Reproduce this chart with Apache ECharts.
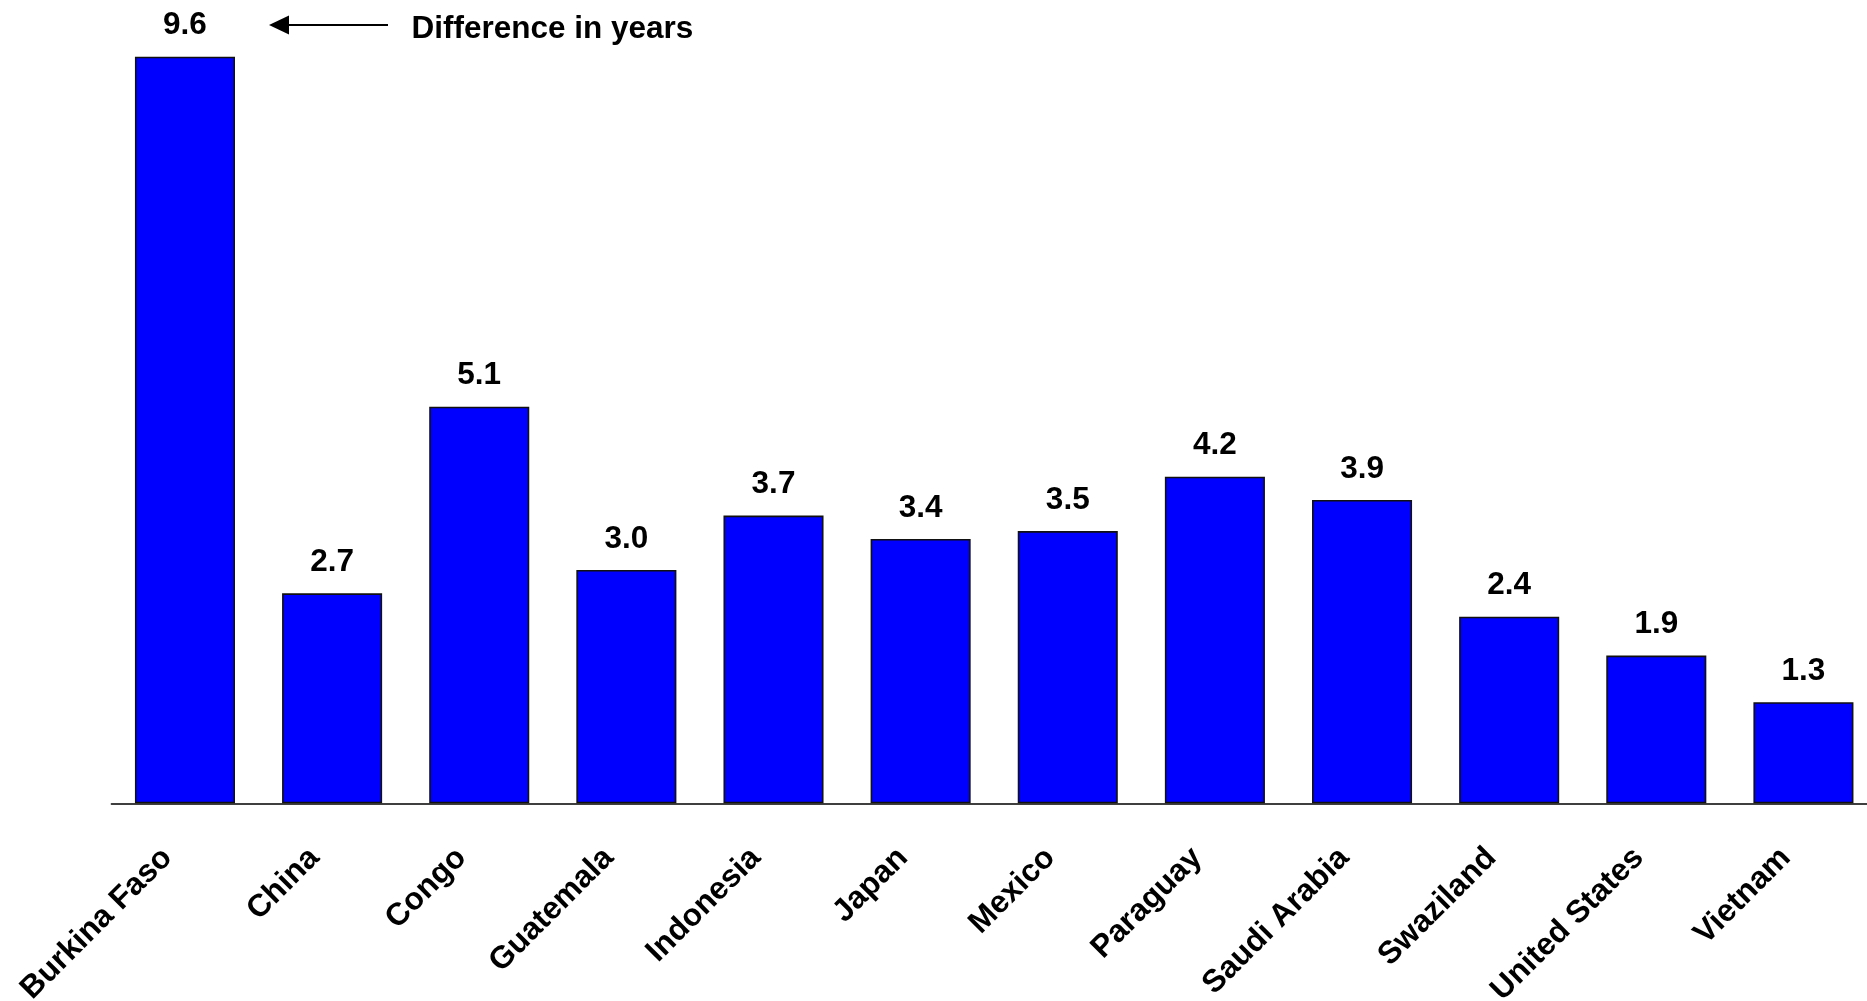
<!DOCTYPE html>
<html>
<head>
<meta charset="utf-8">
<title>Difference in years</title>
<script src="https://cdn.jsdelivr.net/npm/echarts@6/dist/echarts.min.js"></script>
<style>
  html, body { margin: 0; padding: 0; background: #ffffff; }
  #chart { width: 1867px; height: 1001px; }
</style>
</head>
<body>
<div id="chart"></div>
<script>
// Countries along the category axis
const countries = [
  'Burkina Faso', 'China', 'Congo', 'Guatemala', 'Indonesia', 'Japan',
  'Mexico', 'Paraguay', 'Saudi Arabia', 'Swaziland', 'United States', 'Vietnam'
];
// Difference in years for each country
const differenceYears = [9.6, 2.7, 5.1, 3.0, 3.7, 3.4, 3.5, 4.2, 3.9, 2.4, 1.9, 1.3];
const annotationText = 'Difference in years';

const FONT = "'Liberation Sans', Arial, Helvetica, sans-serif";
const FONT_SIZE = 31.5;

const chart = echarts.init(document.getElementById('chart'), null, { renderer: 'canvas' });

chart.setOption({
  backgroundColor: '#ffffff',
  animation: false,
  grid: {
    left: 111.4, right: -10, top: 25.6, bottom: 197.7,
    containLabel: false,
    outerBoundsMode: 'none'
  },
  xAxis: {
    type: 'category',
    data: countries,
    axisLine: { show: true, lineStyle: { color: '#000000', width: 1.5 } },
    axisTick: { show: false },
    axisLabel: {
      interval: 0,
      rotate: 45,
      margin: 32,
      padding: [0, 25, 0, 0],
      color: '#000000',
      fontFamily: FONT,
      fontWeight: 'bold',
      fontSize: FONT_SIZE
    }
  },
  yAxis: {
    type: 'value',
    min: 0,
    max: 10,
    show: false,
    splitLine: { show: false }
  },
  series: [{
    type: 'bar',
    data: differenceYears,
    barWidth: '68%',
    itemStyle: { color: '#0000ff', borderColor: '#111111', borderWidth: 1.6 },
    label: {
      show: true,
      position: 'top',
      distance: 15,
      color: '#000000',
      fontFamily: FONT,
      fontWeight: 'bold',
      fontSize: FONT_SIZE,
      formatter: p => p.value.toFixed(1)
    }
  }],
  graphic: [
    {
      type: 'line',
      shape: { x1: 285, y1: 25, x2: 388, y2: 25 },
      style: { stroke: '#000000', lineWidth: 2 }
    },
    {
      type: 'polygon',
      shape: { points: [[269, 25], [289, 15.5], [289, 34.5]] },
      style: { fill: '#000000' }
    },
    {
      type: 'text',
      x: 411.5,
      y: 29,
      style: {
        text: annotationText,
        fill: '#000000',
        font: 'bold ' + FONT_SIZE + 'px ' + FONT,
        verticalAlign: 'middle',
        align: 'left'
      }
    }
  ]
});
</script>
</body>
</html>
